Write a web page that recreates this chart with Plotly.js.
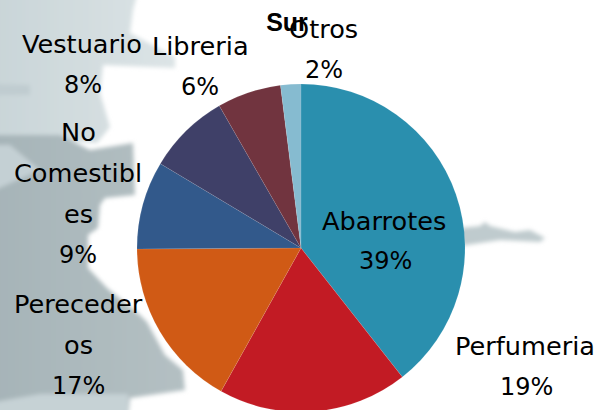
<!DOCTYPE html>
<html><head><meta charset="utf-8">
<script src="https://cdn.plot.ly/plotly-3.0.1.min.js"></script>
<style>html,body{margin:0;padding:0;background:#fff;overflow:hidden;width:600px;height:410px}#c{width:600px;height:410px;overflow:hidden}</style>
</head><body><div id="c"></div>
<script>
const categories = ["Abarrotes","Perfumeria","Perecederos","No Comestibles","Vestuario","Libreria","Otros"];
const shares = [39.4,18.7,16.8,8.7,8.1,6.3,2.0];
const sliceColors = ["#2A8FAE","#C21B24","#D05A15","#32598B","#3F4068","#71343F","#86BBD0"];
const labelLines = ["Abarrotes","39%","Perfumeria","19%","Pereceder","os","17%","No","Comestibl","es","9%","Vestuario","8%","Libreria","6%","Otros","2%"];
const lineX = [384,385,525,526,78,78,79,78,78,78,78,82,83,200,200,323,324];
const lineY = [221,261,346,387,304,345,386,132,173,214,255,44,85,46,87,29,70];

const W=600,H=414;
const bg = `<svg xmlns="http://www.w3.org/2000/svg" width="600" height="414" viewBox="0 0 600 414">
<defs><filter id="b" x="-10%" y="-10%" width="120%" height="120%"><feGaussianBlur stdDeviation="2"/></filter>
<linearGradient id="g1" x1="0" x2="1" y1="0" y2="0"><stop offset="0" stop-color="#c9d5d8"/><stop offset="1" stop-color="#dce4e6"/></linearGradient>
<linearGradient id="g2" x1="0" x2="1" y1="0" y2="0"><stop offset="0" stop-color="#a6b4b8"/><stop offset="1" stop-color="#b4c0c3"/></linearGradient></defs>
<g filter="url(#b)">
<path fill="url(#g1)" d="M-5,-5 L137,-5 L133,10 L130,33 L175,57 L175,68 L103,65 L100,93 L110,127 L97,143 L60,140 L-5,140 Z"/>
<path fill="#c0ccd0" d="M-5,84 L30,85 L30,95 L-5,95 Z"/>
<path fill="url(#g2)" d="M-5,135 L60,135 L90,150 L133,143 L135,195 L105,198 L100,205 L98,228 L88,235 L88,268 L107,288 L140,315 L147,322 L165,355 L183,370 L185,390 L130,398 L128,420 L-5,420 Z"/>
<path fill="#c4d0d4" d="M-5,145 L10,145 L40,170 L-5,190 Z"/>
<path fill="#c6d2d5" d="M-5,402 L40,394 L128,394 L128,420 L-5,420 Z"/>
<path fill="#bfcbce" d="M460,228 L480,226 L485,222 L490,226 L515,232 L530,230 L545,238 L540,242 L500,240 L460,246 Z"/>
</g></svg>`;

const annotations = labelLines.map((t,i)=>({
  text:t, x:lineX[i]/W, y:1-lineY[i]/H, xref:'paper', yref:'paper',
  xanchor:'center', yanchor:'middle', showarrow:false,
  font:{family:'DejaVu Sans',size:/%$/.test(t)?24:25.6,color:'#000'}
}));

Plotly.newPlot('c',[{
  type:'pie', labels:categories, values:shares, sort:false, direction:'clockwise', rotation:0,
  marker:{colors:sliceColors,line:{color:'rgba(255,255,255,0.15)',width:0.6}},
  textinfo:'none', hoverinfo:'label+percent',
  domain:{x:[137/W,465/W],y:[1-412/H,1-84/H]}, showlegend:false
}],{
  width:W,height:H,margin:{l:0,r:0,t:0,b:0},showlegend:false,
  paper_bgcolor:'#fff',
  title:{text:'<b>Sur</b>',x:287/W,xanchor:'center',y:1-22/H,yanchor:'middle',
         font:{family:'Liberation Sans',size:25,color:'#000'}},
  images:[{source:'data:image/svg+xml;charset=utf-8,'+encodeURIComponent(bg),xref:'paper',yref:'paper',x:0,y:1,sizex:1,sizey:1,xanchor:'left',yanchor:'top',sizing:'stretch',layer:'below'}],
  annotations
},{staticPlot:true,displayModeBar:false});
</script></body></html>
